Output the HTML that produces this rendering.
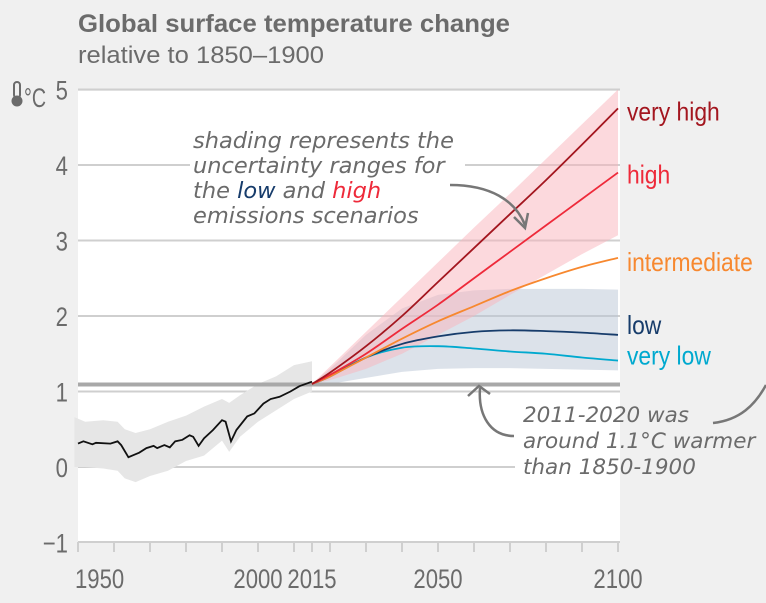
<!DOCTYPE html>
<html><head><meta charset="utf-8">
<style>
html,body{margin:0;padding:0;background:#f0f0f0;}
svg{display:block;}
.ax{font-family:"Liberation Sans",sans-serif;fill:#6b6b6b;font-size:27px;}
.hand{font-family:"DejaVu Sans","Liberation Sans",sans-serif;font-style:italic;fill:#6b6b6b;}
</style></head>
<body>
<svg id="chart" width="766" height="603" viewBox="0 0 766 603" xmlns="http://www.w3.org/2000/svg">
<rect x="0" y="0" width="766" height="603" fill="#f0f0f0"/>
<text x="78" y="32" textLength="432" lengthAdjust="spacingAndGlyphs" style="font-family:'Liberation Sans',sans-serif;font-weight:bold;font-size:25px;fill:#6b6b6b">Global surface temperature change</text>
<text x="78" y="63" textLength="246" lengthAdjust="spacingAndGlyphs" style="font-family:'Liberation Sans',sans-serif;font-size:24px;fill:#6b6b6b">relative to 1850–1900</text>
<rect x="78" y="91" width="542" height="451" fill="#ffffff"/>
<g id="grid"></g>
<g id="bands"></g>
<g id="lines"></g>
<g id="axes"></g>
<g fill="none" stroke="#6b6b6b" stroke-width="2">
<rect x="14" y="82" width="6" height="16" rx="3"/>
<circle cx="17" cy="101" r="4.5" fill="#6b6b6b"/>
</g>
<text x="24" y="107" class="ax" textLength="22" lengthAdjust="spacingAndGlyphs">°C</text>
<rect x="190" y="128" width="275" height="98" fill="#ffffff"/>
<text class="hand" style="font-size:22.5px">
<tspan x="193" y="148">shading represents the</tspan>
<tspan x="193" y="173">uncertainty ranges for</tspan>
<tspan x="193" y="198">the <tspan fill="#173c6b">low</tspan> and <tspan fill="#ee2a3a">high</tspan></tspan>
<tspan x="193" y="223">emissions scenarios</tspan>
</text>
<path d="M450 185 C490 185 515 200 525 225" fill="none" stroke="#777" stroke-width="2.5"/>
<path d="M514 217 L525 228 L528 213" fill="none" stroke="#777" stroke-width="2.5"/>
<rect x="515" y="400" width="105" height="80" fill="#ffffff"/>
<text class="hand" style="font-size:21.5px">
<tspan x="523" y="422">2011-2020 was</tspan>
<tspan x="523" y="448">around 1.1°C warmer</tspan>
<tspan x="523" y="474">than 1850-1900</tspan>
</text>
<path d="M514 436 C490 436 478 415 480 388" fill="none" stroke="#777" stroke-width="2.5"/>
<path d="M468 396 L479 386 L490 394" fill="none" stroke="#777" stroke-width="2.5"/>
<path d="M713 423 C740 420 755 405 766 385" fill="none" stroke="#777" stroke-width="2.5"/>
<g id="labels"></g>
</svg>
<script>
const histYears=[1950,1951.5,1954,1955,1959,1961,1962,1964,1965.5,1967,1969,1971,1972,1974,1975.5,1977,1979,1981,1982,1983.5,1985,1987.5,1990,1991,1992.5,1994,1997,1999,2001.5,2003.5,2006,2009,2011.5,2015];
const histValues=[0.31,0.34,0.3,0.32,0.31,0.34,0.29,0.13,0.16,0.19,0.25,0.28,0.25,0.29,0.26,0.34,0.36,0.42,0.40,0.28,0.38,0.49,0.62,0.6,0.34,0.49,0.67,0.71,0.84,0.90,0.93,1.0,1.07,1.13];
const histBandYears=[1949,1952,1957,1961,1963,1966,1970,1975,1980,1985,1990,1992,1995,2000,2005,2010,2015];
const histUpper=[0.66,0.6,0.62,0.6,0.5,0.45,0.5,0.6,0.68,0.8,0.9,0.85,0.95,1.1,1.2,1.35,1.4];
const histLower=[0.0,0.0,-0.02,-0.05,-0.15,-0.2,-0.12,-0.05,0.08,0.15,0.35,0.2,0.4,0.6,0.75,0.9,1.0];
const projYears=[2015,2020,2030,2040,2050,2060,2070,2080,2090,2100];
const veryHigh=[1.1,1.25,1.6,2.0,2.45,2.9,3.35,3.8,4.27,4.75];
const high=[1.1,1.22,1.5,1.83,2.15,2.5,2.85,3.2,3.55,3.9];
const intermediate=[1.1,1.2,1.45,1.7,1.93,2.13,2.33,2.5,2.65,2.77];
const low=[1.1,1.2,1.45,1.63,1.73,1.79,1.81,1.8,1.78,1.75];
const veryLow=[1.1,1.2,1.45,1.58,1.6,1.57,1.53,1.5,1.45,1.41];
const highUpper=[1.1,1.33,1.79,2.25,2.71,3.17,3.62,4.08,4.54,5.0];
const highLower=[1.1,1.15,1.3,1.5,1.75,2.0,2.28,2.55,2.82,3.07];
const lowUpper=[1.1,1.3,1.75,2.1,2.28,2.34,2.36,2.36,2.36,2.35];
const lowLower=[1.1,1.1,1.18,1.26,1.3,1.31,1.31,1.3,1.29,1.28];
const yTicks=[-1,0,1,2,3,4,5];
const xLabels=[1950,2000,2015,2050,2100];
const xTicks=[1950,1960,1970,1980,1990,2000,2010,2015,2020,2030,2040,2050,2060,2070,2080,2090,2100];
const recentMean=1.1;

const NS='http://www.w3.org/2000/svg';
const X=y=>78+(y-1950)*3.6;
const Y=v=>467-v*75.5;
function mk(tag,attrs,parent){const e=document.createElementNS(NS,tag);for(const k in attrs)e.setAttribute(k,attrs[k]);parent.appendChild(e);return e;}
const grid=document.getElementById('grid'),bands=document.getElementById('bands'),lines=document.getElementById('lines'),axes=document.getElementById('axes'),labels=document.getElementById('labels');
yTicks.forEach(v=>{
  if(v===-1)return;
  const l=mk('line',{x1:78,x2:620,y1:Y(v),y2:Y(v),stroke:'#cfcfcf','stroke-width':2},grid);
  
  
});
yTicks.forEach(v=>{
  const t=mk('text',{'text-anchor':'end',class:'ax',transform:'translate(68,'+(Y(v)+10)+') scale(0.82,1)'},axes);
  t.textContent=v<0?'\u2212'+(-v):String(v);
  
  
});
const xa=mk('line',{x1:78,x2:620,y1:542,y2:542,stroke:'#cfcfcf','stroke-width':2},axes);


xTicks.forEach(y=>{
  const t=mk('line',{x1:X(y),x2:X(y),y1:542,y2:552,stroke:'#cfcfcf','stroke-width':2},axes);
  
  
});
xLabels.forEach(y=>{
  let anchor='middle';let x=X(y);
  if(y===1950){anchor='start';x=X(y)-3;}
  const t=mk('text',{'text-anchor':anchor,class:'ax',transform:'translate('+x+',588) scale(0.82,1)'},axes);
  t.textContent=String(y);
  
  
});
function band(xs,up,lo,fill,name){
  let d='M'+xs.map((x,i)=>X(x)+' '+Y(up[i])).join(' L');
  for(let i=xs.length-1;i>=0;i--)d+=' L'+X(xs[i])+' '+Y(lo[i]);
  const p=mk('path',{d:d+'Z',fill:fill},bands);
  
  
}
band(histBandYears,histUpper,histLower,'#e6e6e6','historical-uncertainty-band');
band(projYears,lowUpper,lowLower,'rgba(186,198,214,0.5)','low-uncertainty-band');
band(projYears,highUpper,highLower,'rgba(250,180,188,0.5)','high-uncertainty-band');
const base=mk('line',{x1:78,x2:620,y1:Y(recentMean)+0.5,y2:Y(recentMean)+0.5,stroke:'#a8a8a8','stroke-width':4},bands);


function smooth(xs,vs){
  const pts=xs.map((x,i)=>[X(x),Y(vs[i])]);
  let d='M'+pts[0][0]+' '+pts[0][1];
  for(let i=0;i<pts.length-1;i++){
    const p0=pts[Math.max(0,i-1)],p1=pts[i],p2=pts[i+1],p3=pts[Math.min(pts.length-1,i+2)];
    const c1=[p1[0]+(p2[0]-p0[0])/6,p1[1]+(p2[1]-p0[1])/6],c2=[p2[0]-(p3[0]-p1[0])/6,p2[1]-(p3[1]-p1[1])/6];
    d+=' C'+c1+' '+c2+' '+p2;
  }
  return d;
}
const series=[['very-low',veryLow,'#00a9cf','very low'],['low',low,'#173c6b','low'],['intermediate',intermediate,'#f7882f','intermediate'],['high',high,'#ee2a3a','high'],['very-high',veryHigh,'#a3161f','very high']];
series.forEach(s=>{
  const p=mk('path',{d:smooth(projYears,s[1]),fill:'none',stroke:s[2],'stroke-width':1.8},lines);
  
  
});
const hp=mk('path',{d:'M'+histYears.map((y,i)=>X(y)+' '+Y(histValues[i])).join(' L'),fill:'none',stroke:'#111','stroke-width':1.8},lines);


const labelOffsets={'very high':4,'high':3,'intermediate':5,'low':-9,'very low':-4};
series.forEach(s=>{
  const v=s[1][s[1].length-1];
  const t=mk('text',{class:'ax',style:'fill:'+s[2]+';font-size:26px',transform:'translate(627,'+(Y(v)+8+labelOffsets[s[3]])+') scale(0.88,1)'},labels);
  t.textContent=s[3];
  
  
});
</script>
</body></html>
